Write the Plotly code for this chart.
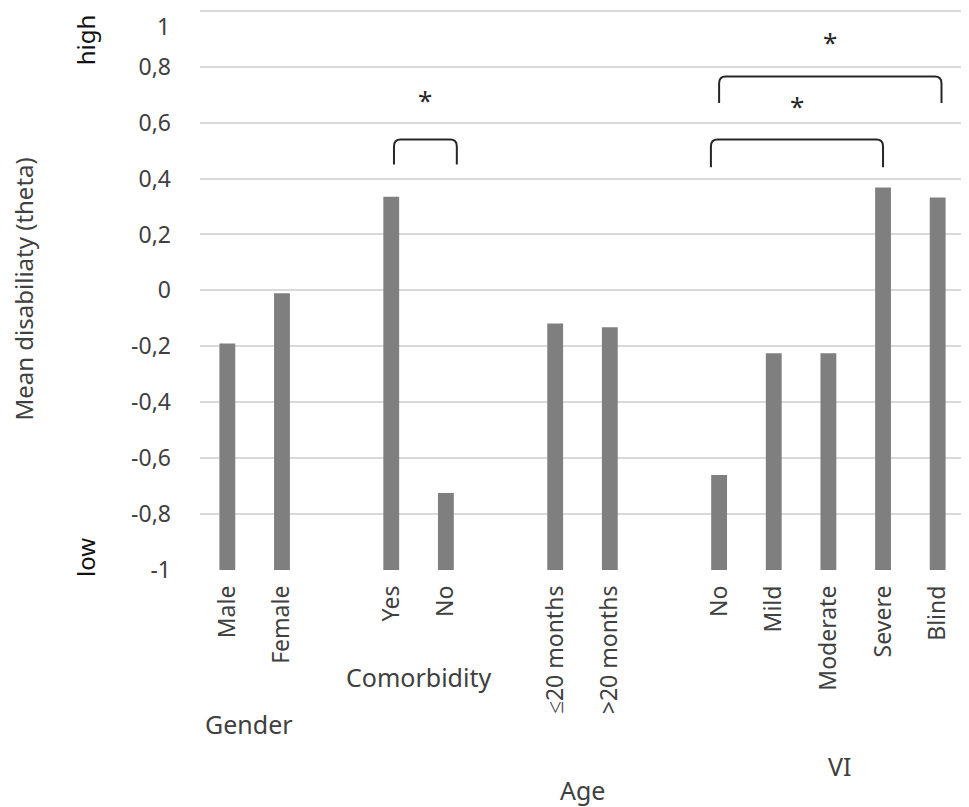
import plotly.graph_objects as go

# categories grouped as in the original chart
groups = ["Gender", "Comorbidity", "Age", "VI"]
group_cats = [
    ["Male", "Female"],
    ["Yes", "No"],
    ["≤20 months", ">20 months"],
    ["No", "Mild", "Moderate", "Severe", "Blind"],
]
group_vals = [
    [-0.19, -0.01],
    [0.335, -0.725],
    [-0.118, -0.132],
    [-0.66, -0.225, -0.225, 0.368, 0.332],
]
y_ticks = [-1, -0.8, -0.6, -0.4, -0.2, 0, 0.2, 0.4, 0.6, 0.8, 1]

# positions with an empty slot between groups
xs, labels, vals = [], [], []
pos = 0
for cats, vs in zip(group_cats, group_vals):
    for c, v in zip(cats, vs):
        xs.append(pos)
        labels.append(c)
        vals.append(v)
        pos += 1
    pos += 1

fig = go.Figure()
fig.add_trace(go.Bar(
    x=xs, y=[v + 1 for v in vals], base=-1,
    width=0.29, marker=dict(color="#7f7f7f", line=dict(width=0)),
    hoverinfo="skip",
))

font = "Noto Sans"
txt = "#404040"

# page body has an 8px margin, so the figure is made a bit smaller
fig.update_layout(
    width=961, height=799,
    margin=dict(l=192, r=4, t=0, b=237),
    plot_bgcolor="white", paper_bgcolor="white",
    showlegend=False,
    font=dict(family=font, color=txt, size=18),
)
fig.update_xaxes(
    range=[-0.5, 13.5], tickvals=xs, ticktext=labels, tickangle=-90,
    showgrid=False, zeroline=False, showline=False, ticks="",
    ticklabelstandoff=10, tickfont=dict(size=23, color=txt),
)
tick_text = [("%g" % t).replace(".", ",") for t in y_ticks]
fig.update_yaxes(
    range=[-1, 1.01], tickvals=y_ticks,
    ticktext=tick_text[:-1] + [""],
    showgrid=True, gridcolor="#d9d9d9", gridwidth=1.5, zeroline=False,
    showline=False, ticks="", ticklabelstandoff=28,
    tickfont=dict(size=23, color=txt), automargin=False,
)
# top tick label sits at the very edge, plotly drops it, so draw it here
fig.add_annotation(x=-0.0366, y=y_ticks[-1], xref="paper", yref="y",
                   xanchor="right", yanchor="top", yshift=3,
                   text=tick_text[-1], showarrow=False,
                   font=dict(size=23, color=txt))

# group labels under the axis
group_y = {"Gender": -0.274, "Comorbidity": -0.191, "Age": -0.391, "VI": -0.349}
group_x = {"Gender": 0.4, "Comorbidity": 3.5, "Age": 6.5, "VI": 11.2}
for g in groups:
    fig.add_annotation(x=group_x[g], y=group_y[g], xref="x", yref="paper",
                       xanchor="center", yanchor="middle",
                       text=g, showarrow=False, font=dict(size=25, color=txt))

# axis title and high / low markers
fig.add_annotation(x=-0.232, y=0.5, xref="paper", yref="paper", textangle=-90,
                   xanchor="center", yanchor="middle",
                   text="Mean disabiliaty (theta)", showarrow=False,
                   font=dict(size=24, color=txt))
fig.add_annotation(x=-0.150, y=0.943, xref="paper", yref="paper", textangle=-90,
                   xanchor="center", yanchor="middle",
                   text="high", showarrow=False, font=dict(size=24, color="#111111"))
fig.add_annotation(x=-0.150, y=0.022, xref="paper", yref="paper", textangle=-90,
                   xanchor="center", yanchor="middle",
                   text="low", showarrow=False, font=dict(size=24, color="#111111"))

# significance brackets: (x0, x1, top, leg bottom, star y)
brackets = [
    (3.05, 4.2, 0.54, 0.45, 0.68),
    (8.85, 12.0, 0.54, 0.44, 0.66),
    (9.0, 13.07, 0.765, 0.67, 0.89),
]
for x0, x1, top, bot, sy in brackets:
    r = 0.12
    ry = 0.025
    path = (f"M {x0},{bot} L {x0},{top - ry} Q {x0},{top} {x0 + r},{top} "
            f"L {x1 - r},{top} Q {x1},{top} {x1},{top - ry} L {x1},{bot}")
    fig.add_shape(type="path", path=path, xref="x", yref="y",
                  line=dict(color="#262626", width=2))
    fig.add_annotation(x=(x0 + x1) / 2, y=sy, xref="x", yref="y", text="*",
                       showarrow=False, font=dict(size=26, color="#262626"))

fig.write_html("out.html")
